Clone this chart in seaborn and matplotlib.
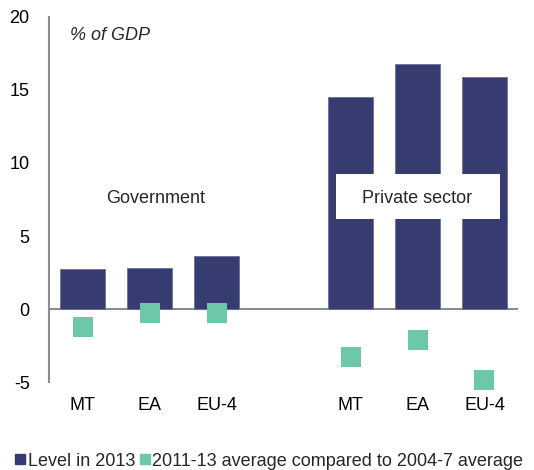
import pandas as pd
import matplotlib
matplotlib.use('Agg')
import matplotlib.pyplot as plt
from matplotlib.lines import Line2D
from matplotlib.patches import Rectangle
import seaborn as sns

# Data (% of GDP)
groups = ['Government'] * 3 + ['Private sector'] * 3
countries = ['MT', 'EA', 'EU-4', 'MT', 'EA', 'EU-4']
level_2013 = [2.75, 2.78, 3.65, 14.5, 16.8, 15.9]
change_vs_2004_7 = [-1.2, -0.3, -0.3, -3.25, -2.1, -4.85]

bar_color = '#363c70'
marker_color = '#6dc8aa'

df = pd.DataFrame({'group': groups, 'country': countries,
                   'level': level_2013, 'change': change_vs_2004_7})
df['key'] = df['group'] + ' ' + df['country']
order = list(df['key'][:3]) + ['gap'] + list(df['key'][3:])
tick_labels = countries[:3] + [''] + countries[3:]

sns.set_style('white')
plt.rcParams['font.family'] = ['Liberation Sans', 'DejaVu Sans']
plt.rcParams['axes.unicode_minus'] = False
fs = 13

fig = plt.figure(figsize=(5.34, 4.70), dpi=100)
ax = fig.add_axes([0.092, 0.187, 0.878, 0.777])

sns.barplot(data=df, x='key', y='level', order=order, color=bar_color,
            width=0.67, saturation=1, linewidth=0.6, edgecolor='#6a70a0',
            ax=ax, zorder=2)
sns.stripplot(data=df, x='key', y='change', order=order, color=marker_color,
              marker='s', size=15, jitter=False, linewidth=0, ax=ax, zorder=3,
              clip_on=False)

ax.axhline(0, color='#8c8c8c', linewidth=1.5, zorder=1)
ax.set_ylim(-5, 20)
ax.set_xlim(-0.5, 6.5)
ax.set_yticks([-5, 0, 5, 10, 15, 20])
ax.set_xticks(range(len(order)))
ax.set_xticklabels(tick_labels)
ax.set_xlabel('')
ax.set_ylabel('')
ax.tick_params(axis='both', length=0, labelsize=fs, colors='black')
ax.tick_params(axis='x', pad=11)
ax.tick_params(axis='y', pad=14)

for side in ['top', 'right', 'bottom']:
    ax.spines[side].set_visible(False)
ax.spines['left'].set_color('#8c8c8c')
ax.spines['left'].set_linewidth(1.5)

ax.text(0.045, 0.95, '% of GDP', transform=ax.transAxes, style='italic',
        fontsize=fs, va='center', ha='left')
ax.text(1.09, 7.6, 'Government', fontsize=fs, ha='center', va='center')
ax.add_patch(Rectangle((3.78, 6.15), 2.45, 3.1, facecolor='white',
                       edgecolor='none', zorder=4))
ax.text(5.0, 7.6, 'Private sector', fontsize=fs, ha='center', va='center',
        zorder=5)

handles = [Line2D([], [], marker='s', linestyle='none', color=bar_color, markersize=7.5),
           Line2D([], [], marker='s', linestyle='none', color=marker_color, markersize=7.5)]
labels = ['Level in 2013', '2011-13 average compared to 2004-7 average']
fig.legend(handles, labels, loc='center', bbox_to_anchor=(0.503, 0.019), ncol=2,
           frameon=False, fontsize=fs, handletextpad=0.05, columnspacing=0.2,
           handlelength=0.7)

plt.savefig('out.png', dpi=100)
